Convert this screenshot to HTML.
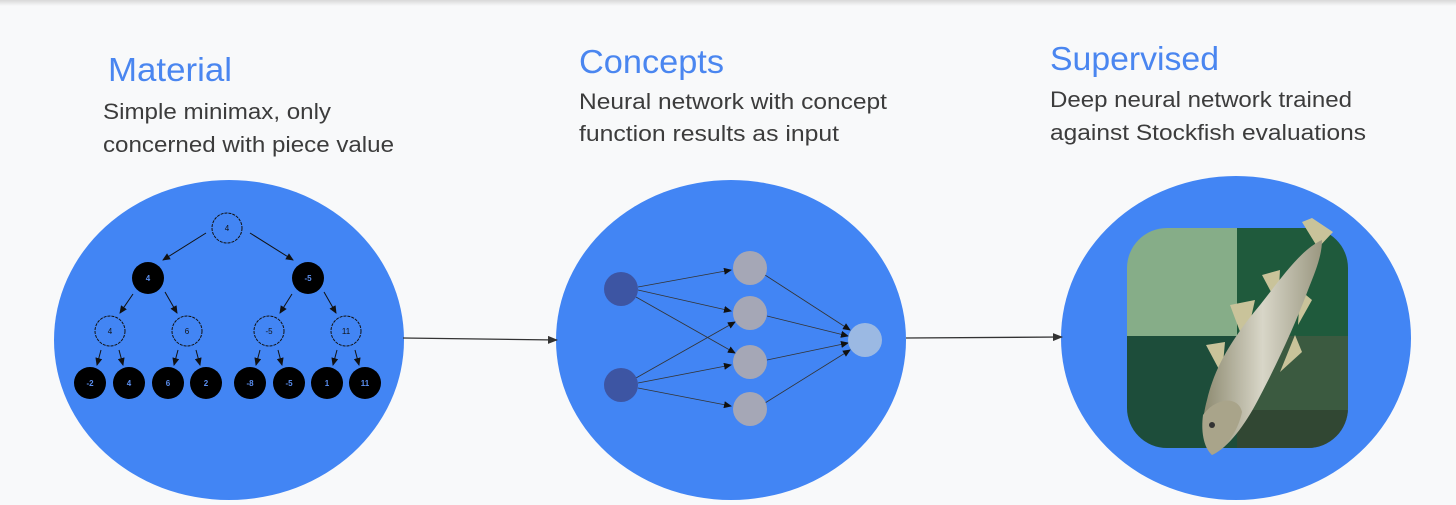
<!DOCTYPE html>
<html><head><meta charset="utf-8"><style>
html,body{margin:0;padding:0;background:#f8f9fa;}
svg{display:block}
text{font-family:"Liberation Sans",sans-serif}
</style></head><body>
<svg width="1456" height="505" viewBox="0 0 1456 505" xmlns="http://www.w3.org/2000/svg">
<defs>
<linearGradient id="top" x1="0" y1="0" x2="0" y2="1"><stop offset="0" stop-color="#d8d8d8"/><stop offset="1" stop-color="#f8f9fa"/></linearGradient>
<marker id="ar" markerWidth="10" markerHeight="8" refX="9" refY="4" orient="auto" markerUnits="userSpaceOnUse"><path d="M0,0 L10,4 L0,8 z" fill="#333"/></marker>
<marker id="as" markerWidth="8" markerHeight="7" refX="7" refY="3.5" orient="auto" markerUnits="userSpaceOnUse"><path d="M0,0 L8,3.5 L0,7 z" fill="#111"/></marker>
<linearGradient id="fish" x1="0" y1="0" x2="1" y2="0"><stop offset="0" stop-color="#8d8a70"/><stop offset=".5" stop-color="#d8d6c8"/><stop offset="1" stop-color="#9a9780"/></linearGradient>
<clipPath id="rr"><rect x="1127" y="228" width="221" height="220" rx="40"/></clipPath>
</defs>
<rect x="0" y="0" width="1456" height="6" fill="url(#top)"/>

<text x="108" y="81" font-size="33" fill="#4a86f0" textLength="124" lengthAdjust="spacingAndGlyphs">Material</text>
<text x="103" y="119" font-size="22" fill="#3c3c3c" textLength="228" lengthAdjust="spacingAndGlyphs">Simple minimax, only</text>
<text x="103" y="152" font-size="22" fill="#3c3c3c" textLength="291" lengthAdjust="spacingAndGlyphs">concerned with piece value</text>

<text x="579" y="73" font-size="33" fill="#4a86f0" textLength="145" lengthAdjust="spacingAndGlyphs">Concepts</text>
<text x="579" y="109" font-size="22" fill="#3c3c3c" textLength="308" lengthAdjust="spacingAndGlyphs">Neural network with concept</text>
<text x="579" y="141" font-size="22" fill="#3c3c3c" textLength="260" lengthAdjust="spacingAndGlyphs">function results as input</text>

<text x="1050" y="70" font-size="33" fill="#4a86f0" textLength="169" lengthAdjust="spacingAndGlyphs">Supervised</text>
<text x="1050" y="107" font-size="22" fill="#3c3c3c" textLength="302" lengthAdjust="spacingAndGlyphs">Deep neural network trained</text>
<text x="1050" y="140" font-size="22" fill="#3c3c3c" textLength="316" lengthAdjust="spacingAndGlyphs">against Stockfish evaluations</text>

<ellipse cx="229" cy="340" rx="175" ry="160" fill="#4285f4"/>
<ellipse cx="731" cy="340" rx="175" ry="160" fill="#4285f4"/>
<ellipse cx="1236" cy="338" rx="175" ry="162" fill="#4285f4"/>

<line x1="403" y1="338" x2="557" y2="340" stroke="#333" stroke-width="1.3" marker-end="url(#ar)"/>
<line x1="906" y1="338" x2="1062" y2="337" stroke="#333" stroke-width="1.3" marker-end="url(#ar)"/>

<!-- tree -->
<g stroke="#111" stroke-width="1" marker-end="url(#as)">
<line x1="206" y1="233" x2="163" y2="260"/><line x1="250" y1="233" x2="293" y2="260"/>
<line x1="133" y1="294" x2="120" y2="313"/><line x1="165" y1="292" x2="177" y2="313"/>
<line x1="292" y1="294" x2="280" y2="313"/><line x1="324" y1="292" x2="336" y2="313"/>
<line x1="101" y1="350" x2="97" y2="365"/><line x1="119" y1="350" x2="123" y2="365"/>
<line x1="178" y1="350" x2="174" y2="365"/><line x1="196" y1="350" x2="200" y2="365"/>
<line x1="260" y1="350" x2="256" y2="365"/><line x1="278" y1="350" x2="282" y2="365"/>
<line x1="337" y1="350" x2="333" y2="365"/><line x1="355" y1="350" x2="359" y2="365"/>
</g>
<g fill="none" stroke="#111" stroke-width="1" stroke-dasharray="3,1">
<circle cx="227" cy="228" r="15"/>
<circle cx="110" cy="331" r="15"/><circle cx="187" cy="331" r="15"/><circle cx="269" cy="331" r="15"/><circle cx="346" cy="331" r="15"/>
</g>
<g fill="#000">
<circle cx="148" cy="278" r="16"/><circle cx="308" cy="278" r="16"/>
<circle cx="90" cy="383" r="16"/><circle cx="129" cy="383" r="16"/><circle cx="168" cy="383" r="16"/><circle cx="206" cy="383" r="16"/>
<circle cx="250" cy="383" r="16"/><circle cx="289" cy="383" r="16"/><circle cx="327" cy="383" r="16"/><circle cx="365" cy="383" r="16"/>
</g>
<g font-size="8" text-anchor="middle" font-weight="bold">
<text x="227" y="231" fill="#111" font-weight="normal">4</text>
<text x="110" y="334" fill="#111" font-weight="normal">4</text><text x="187" y="334" fill="#111" font-weight="normal">6</text><text x="269" y="334" fill="#111" font-weight="normal">-5</text><text x="346" y="334" fill="#111" font-weight="normal">11</text>
<g fill="#5b8ff0">
<text x="148" y="281">4</text><text x="308" y="281">-5</text>
<text x="90" y="386">-2</text><text x="129" y="386">4</text><text x="168" y="386">6</text><text x="206" y="386">2</text>
<text x="250" y="386">-8</text><text x="289" y="386">-5</text><text x="327" y="386">1</text><text x="365" y="386">11</text>
</g></g>

<!-- NN -->
<g stroke="#333" stroke-width=".8" marker-end="url(#as)">
<line x1="638" y1="287" x2="731" y2="270"/><line x1="638" y1="290" x2="731" y2="311"/><line x1="636" y1="297" x2="735" y2="353"/>
<line x1="636" y1="378" x2="735" y2="322"/><line x1="638" y1="383" x2="731" y2="365"/><line x1="638" y1="388" x2="731" y2="406"/>
<line x1="765" y1="275" x2="850" y2="330"/><line x1="767" y1="316" x2="848" y2="336"/><line x1="767" y1="360" x2="848" y2="343"/><line x1="765" y1="403" x2="850" y2="350"/>
</g>
<circle cx="621" cy="289" r="17" fill="#3d55a3"/><circle cx="621" cy="385" r="17" fill="#3d55a3"/>
<g fill="#a5a7b6"><circle cx="750" cy="268" r="17"/><circle cx="750" cy="313" r="17"/><circle cx="750" cy="362" r="17"/><circle cx="750" cy="409" r="17"/></g>
<circle cx="865" cy="340" r="17" fill="#9bb9e3"/>

<!-- stockfish icon -->
<g clip-path="url(#rr)">
<rect x="1127" y="228" width="110" height="108" fill="#86ad88"/>
<rect x="1237" y="228" width="111" height="108" fill="#1f5a3c"/>
<rect x="1127" y="336" width="110" height="112" fill="#1d4d3a"/>
<rect x="1237" y="336" width="111" height="112" fill="#3b5a40"/>
<rect x="1237" y="410" width="111" height="38" fill="#2b3a2c" opacity=".6"/>
</g>
<g fill="#c9c39a">
<path d="M1302,222 L1312,218 L1333,232 L1318,248 Z"/>
<path d="M1262,275 L1280,270 L1278,305 Z"/>
<path d="M1230,305 L1255,300 L1245,345 Z"/>
<path d="M1206,345 L1225,342 L1222,375 Z"/>
<path d="M1300,290 L1312,300 L1298,325 Z"/>
<path d="M1295,335 L1302,352 L1280,372 Z"/>
</g>
<path d="M1322,240 C1300,250 1280,280 1260,305 C1235,335 1215,365 1207,400 C1200,425 1203,445 1212,455 C1228,448 1245,425 1258,400 C1278,362 1295,325 1308,290 C1316,270 1322,255 1322,240 Z" fill="url(#fish)"/>
<path d="M1203,415 C1215,398 1238,395 1242,412 C1238,432 1224,450 1212,455 C1203,447 1201,430 1203,415 Z" fill="#a9a48a"/>
<circle cx="1212" cy="425" r="3" fill="#333"/>
</svg>
</body></html>
